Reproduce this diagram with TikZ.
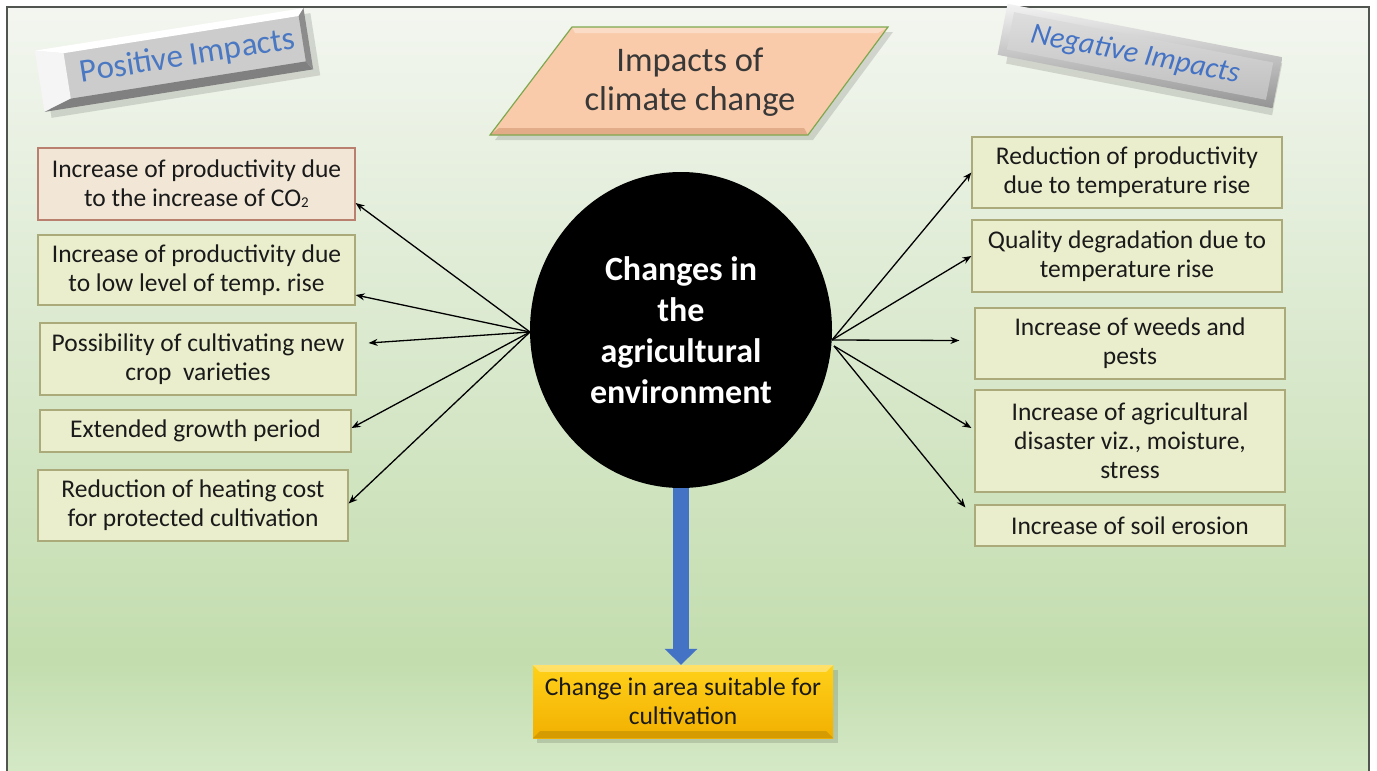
\documentclass[tikz,border=0pt]{standalone}
\usepackage{fontspec}
\setmainfont{Carlito}
\usetikzlibrary{arrows.meta,shapes.geometric,shadows}
\definecolor{bgtop}{HTML}{F3F6F0}
\definecolor{bgmid}{HTML}{C3DDAE}
\definecolor{bgbot}{HTML}{D4E8C6}
\definecolor{framec}{HTML}{505550}
\definecolor{boxfill}{HTML}{EBEECD}
\definecolor{boxline}{HTML}{AAAA7A}
\definecolor{pinkfill}{HTML}{F2E7D7}
\definecolor{pinkline}{HTML}{B98070}
\definecolor{posblue}{HTML}{4A78C2}
\definecolor{peach}{HTML}{F9CBAA}
\definecolor{peachdark}{HTML}{E2AC88}
\definecolor{grnline}{HTML}{7FA84E}
\definecolor{arrblue}{HTML}{4472C4}
\definecolor{txt}{HTML}{1A1A1A}
\newcommand\boxfont{\fontsize{25.5}{29}\selectfont}
\newcommand\circfont{\fontsize{34}{41}\selectfont\bfseries}
\newcommand\titlefont{\fontsize{34.5}{39}\selectfont}
\frenchspacing
\begin{document}
\begin{tikzpicture}[x=1pt,y=-1pt,
  lbox/.style={draw=boxline, fill=boxfill, line width=1.2pt, align=center,
    font=\boxfont, text=txt, inner sep=2pt},
  arr/.style={-{Stealth[length=9pt,width=7pt]}, line width=1.3pt, black},
  shadowfill/.style={fill=black, opacity=0.13}
]
\useasboundingbox (0,0) rectangle (1377,771);
% background
\fill[white] (0,0) rectangle (1377,771);
\shade[top color=bgtop, bottom color=bgmid] (7,7) rectangle (1369,661);
\shade[top color=bgmid, bottom color=bgbot] (7,660) rectangle (1369,771);
\draw[framec, line width=2pt] (7,771) -- (7,7) -- (1369,7) -- (1369,771);

% Positive Impacts plaque
\begin{scope}[shift={(174,60)}, rotate=9]
  \fill[shadowfill] (-130,-25) rectangle (142,38);
  \fill[gray!40] (-108,-24) rectangle (130,22);
  \fill[white] (-136,-31) -- (136,-31) -- (130,-24) -- (-108,-24) -- cycle;
  \fill[white!96!black] (-136,-31) -- (-108,-24) -- (-108,22) -- (-136,31) -- cycle;
  \fill[black!50] (-136,31) -- (-108,22) -- (130,22) -- (136,31) -- cycle;
  \fill[black!45] (136,-31) -- (130,-24) -- (130,22) -- (136,31) -- cycle;
  \node[font=\fontsize{33}{38}\selectfont, text=posblue, rotate=9] (pos) at (14,-1) {Positive Impacts};
\end{scope}

% Negative Impacts plaque
\begin{scope}[shift={(1140,56)}, rotate=-11]
  \fill[shadowfill] (-130,-20) rectangle (141,33);
  \shade[top color=black!5, bottom color=black!42] (-140,-26) rectangle (140,26);
  \shade[top color=black!13, bottom color=black!25] (-132,-19) rectangle (132,19);
  \node[font=\fontsize{30}{35}\selectfont\itshape, text=arrblue, rotate=-11] (neg) at (-5,0) {Negative Impacts};
\end{scope}

% Title parallelogram
\fill[shadowfill] (577,32) -- (893,32) -- (813,140) -- (495,140) -- cycle;
\fill[peach] (572,27) -- (888,27) -- (808,135) -- (490,135) -- cycle;
\fill[white, opacity=0.35] (572,27) -- (888,27) -- (878,33) -- (575,33) -- cycle;
\fill[peachdark] (490,135) -- (808,135) -- (804,128) -- (499,128) -- cycle;
\draw[grnline, line width=1.2pt] (572,27) -- (888,27) -- (808,135) -- (490,135) -- cycle;
\node[font=\titlefont, text=black!78, align=center] (title) at (690,82) {Impacts of\\climate change};

% left boxes
\node[lbox, draw=pinkline, fill=pinkfill, minimum width=317pt, minimum height=72pt] (l1) at (196.5,184)
  {Increase of productivity due\\to the increase of CO\raisebox{-1pt}{\fontsize{15}{15}\selectfont 2}};
\node[lbox, minimum width=317pt, minimum height=70pt] (l2) at (196.5,270)
  {Increase of productivity due\\to low level of temp. rise};
\node[lbox, minimum width=316pt, minimum height=72pt] (l3) at (198,359)
  {Possibility of cultivating new\\crop\ \ varieties};
\node[lbox, minimum width=311pt, minimum height=42pt] (l4) at (195.5,431)
  {Extended growth period};
\node[lbox, minimum width=310pt, minimum height=71pt] (l5) at (193,505.5)
  {Reduction of heating cost\\for protected cultivation};

% right boxes
\node[lbox, minimum width=310pt, minimum height=71pt] (r1) at (1127,172.5)
  {Reduction of productivity\\due to temperature rise};
\node[lbox, minimum width=310pt, minimum height=72pt] (r2) at (1127,256)
  {Quality degradation due to\\temperature rise};
\node[lbox, minimum width=310pt, minimum height=71pt] (r3) at (1130,343.5)
  {Increase of weeds and\\pests};
\node[lbox, minimum width=310pt, minimum height=102pt] (r4) at (1130,441)
  {Increase of agricultural\\disaster viz., moisture,\\stress};
\node[lbox, minimum width=310pt, minimum height=41pt] (r5) at (1130,525.5)
  {Increase of soil erosion};

% bottom box
\fill[shadowfill] (537,670) rectangle (838,743);
\node[top color=yellow!60!orange!90!white, bottom color=orange!55!yellow!95!black,
      minimum width=300pt, minimum height=73pt, inner sep=2pt, align=center,
      font=\boxfont, text=txt] (bot) at (683,701.5) {};
\fill[white, opacity=0.35] (bot.north west) -- (bot.north east) -- ([xshift=-7pt,yshift=-7pt]bot.north east) -- ([xshift=7pt,yshift=-7pt]bot.north west) -- cycle;
\fill[black, opacity=0.12] (bot.south west) -- (bot.south east) -- ([xshift=-7pt,yshift=7pt]bot.south east) -- ([xshift=7pt,yshift=7pt]bot.south west) -- cycle;
\node[font=\boxfont, text=txt, align=center] (bottxt) at (bot.center) {Change in area suitable for\\cultivation};

% central circle and connectors
\coordinate (cl) at (530,332);
\coordinate (cr1) at (832,340);
\coordinate (cr2) at (834,346);
\node[ellipse, fill=black, minimum width=302pt, minimum height=316pt, inner sep=0pt,
      font=\circfont, text=white, align=center] (circ) at (681,330)
  {Changes in\\the\\agricultural\\environment};
\draw[arrblue, line width=16pt, -{Triangle[length=16pt,width=32pt]}]
  (circ.south) -- (circ.south |- bot.north);

\draw[arr] (cl) -- ([yshift=-19pt]l1.east);
\draw[arr] (cl) -- ([yshift=-25pt]l2.east);
\draw[arr] (cl) -- ([xshift=12pt,yshift=16pt]l3.east);
\draw[arr] (cl) -- ([yshift=3pt]l4.east);
\draw[arr] (cl) -- ([yshift=2pt]l5.east);
\draw[arr] (cr1) -- (r1.west);
\draw[arr] (cr1) -- (r2.west);
\draw[arr] (cr1) -- ([xshift=-15pt,yshift=3pt]r3.west);
\draw[arr] (cr2) -- ([xshift=-3pt,yshift=13pt]r4.west);
\draw[arr] (cr2) -- ([xshift=-9pt,yshift=18pt]r5.west);
\end{tikzpicture}
\end{document}
